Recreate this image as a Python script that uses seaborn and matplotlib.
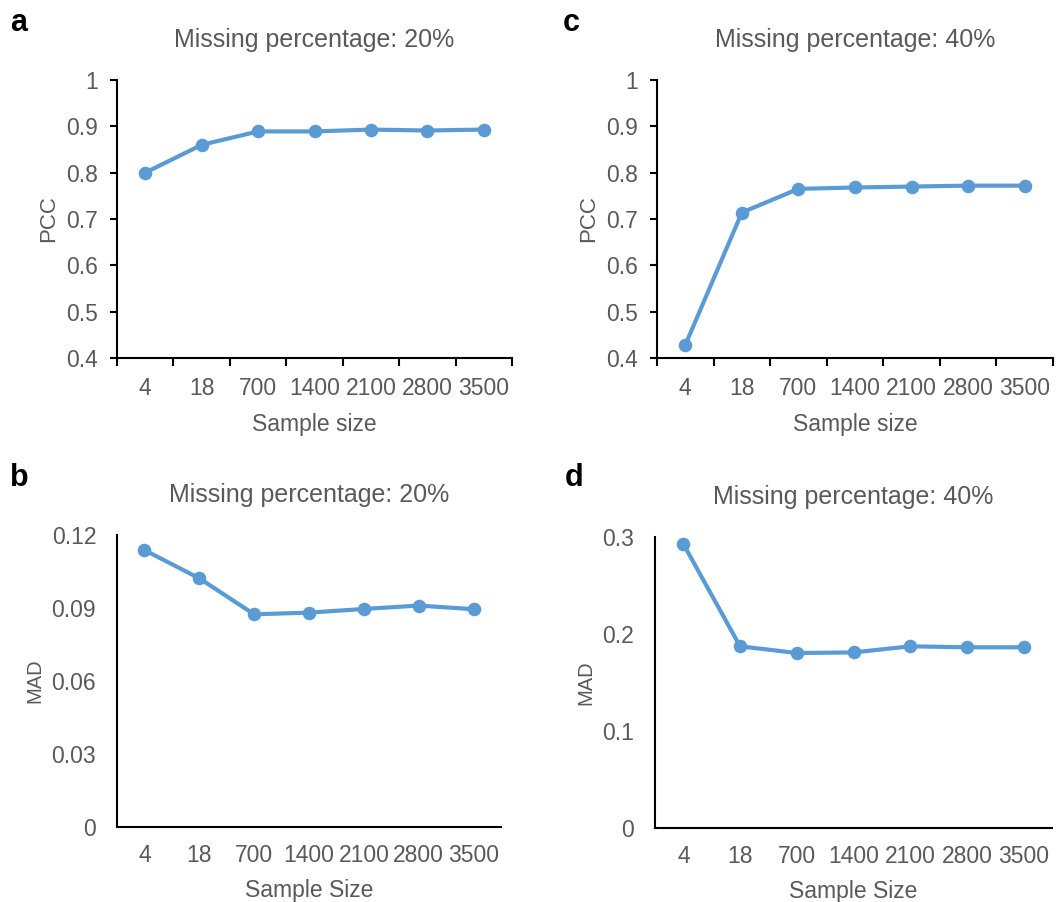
import matplotlib
matplotlib.use("Agg")
import matplotlib.pyplot as plt
import seaborn as sns
from matplotlib.ticker import FixedLocator

sns.set_theme(style="white")
plt.rcParams['font.family'] = ['Liberation Sans', 'DejaVu Sans']

# ---- data ----
sample_sizes = ["4", "18", "700", "1400", "2100", "2800", "3500"]
pcc_20 = [0.800, 0.860, 0.889, 0.889, 0.893, 0.891, 0.893]
pcc_40 = [0.428, 0.714, 0.765, 0.768, 0.770, 0.772, 0.772]
mad_20 = [0.1138, 0.1022, 0.0874, 0.0881, 0.0896, 0.0910, 0.0895]
mad_40 = [0.2928, 0.1873, 0.1804, 0.1810, 0.1873, 0.1863, 0.1863]

pcc_ticks = [0.4, 0.5, 0.6, 0.7, 0.8, 0.9, 1.0]
pcc_ticklabels = ["0.4", "0.5", "0.6", "0.7", "0.8", "0.9", "1"]
mad20_ticks = [0, 0.03, 0.06, 0.09, 0.12]
mad20_ticklabels = ["0", "0.03", "0.06", "0.09", "0.12"]
mad40_ticks = [0, 0.1, 0.2, 0.3]
mad40_ticklabels = ["0", "0.1", "0.2", "0.3"]

titles = ["Missing percentage: 20%", "Missing percentage: 40%"]
panel_letters = ["a", "b", "c", "d"]

LINE = "#5B9BD5"
GRAY = "#595959"

W, H = 1058, 902
fig = plt.figure(figsize=(W / 100, H / 100), dpi=100)


def rect(l, r, t, b):
    return [l / W, 1 - b / H, (r - l) / W, (b - t) / H]


panels = [
    dict(rect=rect(117, 512, 80, 358), y=pcc_20, yt=pcc_ticks, ytl=pcc_ticklabels,
         ylim=(0.4, 1.0), title=titles[0], ylabel="PCC", xlabel="Sample size",
         ticks=True, ylsize=16, letter="a", lpos=(10, 23)),
    dict(rect=rect(657, 1053, 80, 358), y=pcc_40, yt=pcc_ticks, ytl=pcc_ticklabels,
         ylim=(0.4, 1.0), title=titles[1], ylabel="PCC", xlabel="Sample size",
         ticks=True, ylsize=16, letter="c", lpos=(563, 23)),
    dict(rect=rect(117, 501, 535, 827), y=mad_20, yt=mad20_ticks, ytl=mad20_ticklabels,
         ylim=(0, 0.12), title=titles[0], ylabel="MAD", xlabel="Sample Size",
         ticks=False, ylsize=14.5, letter="b", lpos=(10, 478)),
    dict(rect=rect(655, 1052, 537, 828), y=mad_40, yt=mad40_ticks, ytl=mad40_ticklabels,
         ylim=(0, 0.3), title=titles[1], ylabel="MAD", xlabel="Sample Size",
         ticks=False, ylsize=14.5, letter="d", lpos=(565, 478)),
]

for p in panels:
    ax = fig.add_axes(p["rect"])
    sns.pointplot(x=sample_sizes, y=p["y"], color=LINE, ax=ax,
                  markers="o", linestyles="-", markersize=7.5, linewidth=3)
    ax.set_xlim(-0.5, len(sample_sizes) - 0.5)
    ax.set_ylim(*p["ylim"])
    ax.set_yticks(p["yt"])
    ax.set_yticklabels(p["ytl"])
    ax.set_xticks(range(len(sample_sizes)))
    ax.set_xticklabels(sample_sizes)
    for s in ["top", "right"]:
        ax.spines[s].set_visible(False)
    for s in ["left", "bottom"]:
        ax.spines[s].set_color("black")
        ax.spines[s].set_linewidth(1.5)
    ax.grid(False)
    ax.set_facecolor("white")
    if p["ticks"]:
        ax.xaxis.set_minor_locator(FixedLocator([i - 0.5 for i in range(len(sample_sizes) + 1)]))
        ax.tick_params(axis="x", which="minor", bottom=True, length=6, width=1.5, color="black")
        ax.tick_params(axis="x", which="major", bottom=True, length=0, pad=14,
                       labelsize=16.5, labelcolor=GRAY)
        ax.tick_params(axis="y", which="major", left=True, length=5, width=1.5, color="black",
                       pad=9, labelsize=16.5, labelcolor=GRAY)
    else:
        ax.tick_params(axis="x", which="major", bottom=False, length=0, pad=12,
                       labelsize=16.5, labelcolor=GRAY)
        ax.tick_params(axis="y", which="major", left=False, length=0, pad=15,
                       labelsize=16.5, labelcolor=GRAY)
    ax.set_xlabel(p["xlabel"], fontsize=16.5, color=GRAY, labelpad=9)
    ax.set_ylabel(p["ylabel"], fontsize=p["ylsize"], color=GRAY, labelpad=5)
    ax.set_title(p["title"], fontsize=18, color=GRAY, pad=24)
    fig.text(p["lpos"][0] / W, 1 - p["lpos"][1] / H, p["letter"], fontsize=22,
             fontweight="bold", color="black", ha="left", va="center")

fig.savefig("out.png", dpi=100, facecolor="white")
